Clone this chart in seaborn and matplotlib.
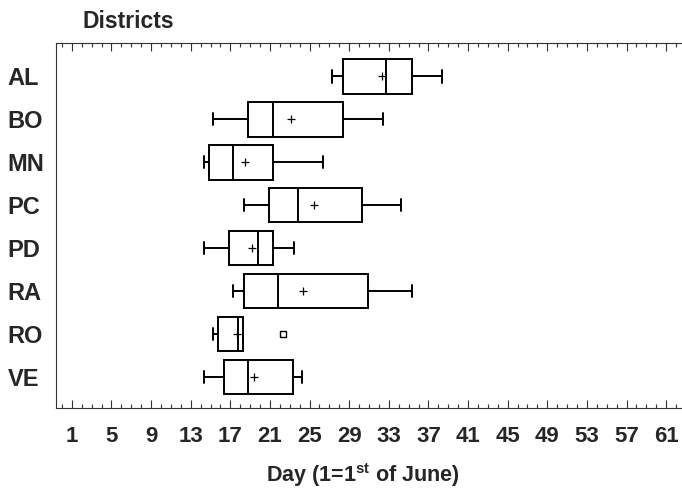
import numpy as np
import pandas as pd
import matplotlib
matplotlib.use("Agg")
import matplotlib.pyplot as plt
from matplotlib.ticker import MultipleLocator
import seaborn as sns

# ---- data (days, 1 = 1st of June) ----
districts = ["AL", "BO", "MN", "PC", "PD", "RA", "RO", "VE"]
whisker_low = [27.3, 15.3, 14.3, 18.4, 14.3, 17.3, 15.3, 14.3]
q1 = [28.4, 18.8, 14.8, 20.9, 16.9, 18.4, 15.8, 16.4]
median = [32.7, 21.3, 17.3, 23.8, 19.8, 21.8, 17.8, 18.8]
q3 = [35.3, 28.4, 21.3, 30.3, 21.3, 30.9, 18.3, 23.3]
whisker_high = [38.4, 32.4, 26.4, 34.2, 23.4, 35.3, 18.3, 24.2]
means = [32.3, 23.1, 18.5, 25.4, 19.2, 24.3, 17.7, 19.4]
outlier_districts = ["RO"]
outlier_values = [22.3]
x_ticks = [1, 5, 9, 13, 17, 21, 25, 29, 33, 37, 41, 45, 49, 53, 57, 61]

# five-number summaries as a long table
rows = []
for i, d in enumerate(districts):
    for v in (whisker_low[i], q1[i], median[i], q3[i], whisker_high[i]):
        rows.append({"district": d, "day": v})
df = pd.DataFrame(rows)

sns.set_style("white")
plt.rcParams["font.family"] = ["Liberation Sans", "DejaVu Sans"]
plt.rcParams["font.weight"] = "bold"
plt.rcParams["mathtext.fontset"] = "custom"
plt.rcParams["mathtext.rm"] = "Liberation Sans:bold"
plt.rcParams["mathtext.bf"] = "Liberation Sans:bold"

fig = plt.figure(figsize=(6.82, 4.90), dpi=100)
ax = fig.add_axes([56 / 682, 1 - 408 / 490, 1 - 56 / 682, (408 - 43) / 490])

sns.boxplot(data=df, x="day", y="district", order=districts, orient="h",
            width=0.8, color="white", linecolor="black", linewidth=1.4,
            whis=1.5, showfliers=False, capwidths=0.28, ax=ax)

sns.pointplot(x=means, y=districts, order=districts, orient="h",
              linestyle="none", marker="+", color="black", markersize=6,
              markeredgewidth=0.9, errorbar=None, ax=ax)

sns.pointplot(x=outlier_values, y=outlier_districts, order=districts,
              orient="h", linestyle="none", marker="s", color="black",
              markersize=5, markerfacecolor="white", markeredgewidth=1.0,
              errorbar=None, ax=ax)

ax.set_xlim(-0.6, 62.6)
ax.set_ylim(7.72, -0.78)
ax.set_xticks(x_ticks)
ax.set_xticklabels([str(t) for t in x_ticks])
ax.xaxis.set_minor_locator(MultipleLocator(1))
ax.tick_params(axis="x", which="both", direction="in", top=True,
               bottom=True, color="#333333", width=0.8)
ax.tick_params(axis="x", which="major", length=6, labelsize=16, pad=13)
ax.tick_params(axis="x", which="minor", length=3)
ax.tick_params(axis="y", left=False, labelsize=17, pad=31.5)
for lab in ax.get_yticklabels():
    lab.set_horizontalalignment("left")
    lab.set_fontweight("bold")
for lab in ax.get_xticklabels():
    lab.set_fontweight("bold")

for side in ("left", "bottom", "top"):
    ax.spines[side].set_visible(True)
    ax.spines[side].set_color("#333333")
    ax.spines[side].set_linewidth(0.8)
ax.spines["right"].set_visible(False)

ax.set_ylabel("")
ax.set_xlabel(r"Day (1=1$^{\rm st}$ of June)", fontsize=15.5,
              fontweight="bold")
ax.xaxis.label.set_verticalalignment("center")
ax.xaxis.set_label_coords(0.49, (408 - 475) / 365)

fig.text(83 / 682, 1 - 21 / 490, "Districts", fontsize=16.5,
         fontweight="bold", ha="left", va="center")

fig.savefig("out.png", dpi=100)
